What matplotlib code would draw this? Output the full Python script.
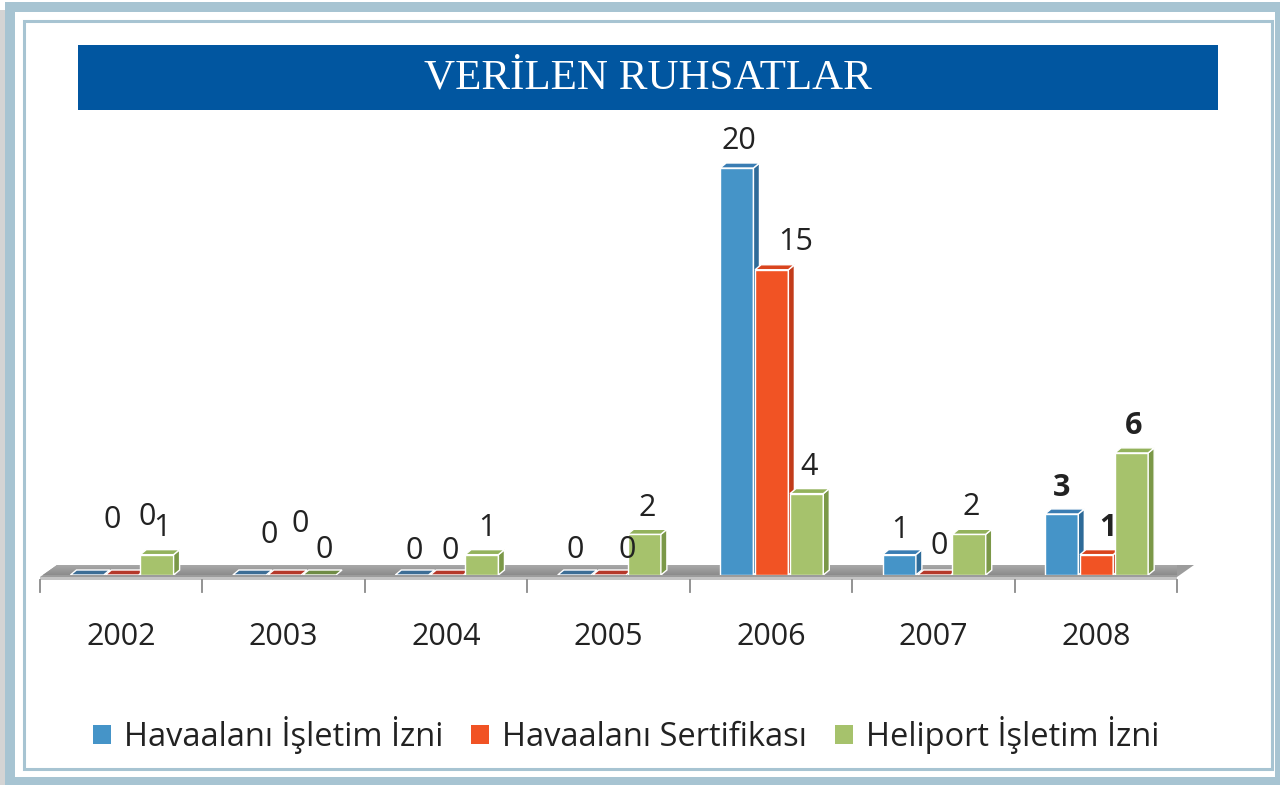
import numpy as np
import matplotlib
matplotlib.use("Agg")
import matplotlib.pyplot as plt
from matplotlib.patches import Rectangle, Polygon, Patch

years = ["2002", "2003", "2004", "2005", "2006", "2007", "2008"]
series_names = ["Havaalanı İşletim İzni", "Havaalanı Sertifikası", "Heliport İşletim İzni"]
isletim = [0, 0, 0, 0, 20, 1, 3]
sertifika = [0, 0, 0, 0, 15, 0, 1]
heliport = [1, 0, 1, 2, 4, 2, 6]
values = [isletim, sertifika, heliport]

# label nudges in pixels (right, down) where labels sit off the usual spot
label_nudge = [
    [(23, -28), (23, -31), (3, 0)],
    [(18, -13), (14, -24), (3, 2)],
    [(0, 3), (1, 3), (3, 0)],
    [(-1, 2), (16, 2), (1, 1)],
    [(0, 0), (22, -1), (0, 0)],
    [(-1, 2), (3, -2), (0, 0)],
    [(-2, 1), (9, 0), (0, 0)],
]

front = ["#4594c8", "#f15324", "#a6c26c"]
side = ["#2e6b99", "#c23b1a", "#7b9848"]
top = ["#3a7db3", "#d9441d", "#93b25c"]
flat = ["#3d6e96", "#b5382a", "#6f8c45"]
txt = "#222222"
frame_c = "#a7c4d2"

W, H = 1280, 785
fig = plt.figure(figsize=(W / 100, H / 100), dpi=100)
fig.patch.set_facecolor("white")

# frame, banner and title in pixel coordinates
bg = fig.add_axes([0, 0, 1, 1])
bg.set_xlim(0, W)
bg.set_ylim(H, 0)
bg.axis("off")
bg.add_patch(Rectangle((0, 10), 5, H, color="#d4d4d4", lw=0))
bg.add_patch(Rectangle((10, 7), 1270, 775, fill=False, ec=frame_c, lw=7.2))
bg.add_patch(Rectangle((23.5, 21), 1248, 747.5, fill=False, ec=frame_c, lw=2.2))
bg.add_patch(Rectangle((78, 45), 1140, 65, color="#0156a0", lw=0))
bg.text(648, 78, "VERİLEN RUHSATLAR", color="white", fontsize=31,
        family="Liberation Serif", ha="center", va="center")

# chart area: baseline at y=575px, 20.35 px per unit
x0_px, base_px, w_px, h_px = 40, 575, 1137, 445
px_y = 20.35
px_x = w_px / 7
ax = fig.add_axes([x0_px / W, (H - base_px) / H, w_px / W, h_px / H])
ax.axis("off")
ax.patch.set_alpha(0)

dx = 6 / px_x
dy = 5 / px_y

# floor
fdx = 17 / px_x
fy0, fy1 = -2 / px_y, 10 / px_y
floor = Polygon([(-0.5, fy0), (6.5, fy0), (6.5 + fdx, fy1), (-0.5 + fdx, fy1)],
                closed=True, fc="#9c9c9c", ec="none", zorder=1, clip_on=False)
ax.add_patch(floor)
grad = np.linspace(0.52, 0.66, 256).reshape(-1, 1)
img = ax.imshow(grad, cmap="gray", vmin=0, vmax=1, aspect="auto",
                extent=(-0.5, 6.5 + fdx, fy0, fy1), origin="lower", zorder=1)
img.set_clip_path(floor)
ax.add_patch(Polygon([(-0.5, fy0), (6.5, fy0), (6.5, -5 / px_y), (-0.5, -5 / px_y)],
                     closed=True, fc="#c4c4c4", ec="none", zorder=1, clip_on=False))
for k in range(8):
    ax.plot([k - 0.5, k - 0.5], [-5 / px_y, -17 / px_y], color="#8a8a8a",
            lw=1.3, clip_on=False, zorder=1)

width = 0.205
offsets = (np.arange(3) - 1) * 0.215 + 0.005

for i in range(len(years)):
    for s in range(3):
        v = values[s][i]
        xc = i + offsets[s]
        xl = xc - width / 2
        xr = xc + width / 2
        if v == 0:
            ax.add_patch(Polygon([(xl, 0), (xr, 0), (xr + dx, dy), (xl + dx, dy)],
                                 closed=True, fc=flat[s], ec="white", lw=1, zorder=2))
        else:
            ax.bar(xc, v, width=width, color=front[s], edgecolor="white",
                   linewidth=1, zorder=2)
            ax.add_patch(Polygon([(xr, 0), (xr + dx, dy), (xr + dx, v + dy), (xr, v)],
                                 closed=True, fc=side[s], ec="white", lw=1, zorder=2))
            ax.add_patch(Polygon([(xl, v), (xr, v), (xr + dx, v + dy), (xl + dx, v + dy)],
                                 closed=True, fc=top[s], ec="white", lw=1, zorder=2))
        ndx, ndy = label_nudge[i][s]
        ax.annotate(str(v), xy=(xc, v), xytext=(2 + ndx, 19 - ndy),
                    textcoords="offset pixels", ha="center", va="baseline",
                    fontsize=22, family="Open Sans", color=txt, zorder=3,
                    fontweight="bold" if years[i] == "2008" else "normal")

for i, yr in enumerate(years):
    ax.text(i, -62 / px_y, yr, ha="center", va="center", fontsize=22,
            family="Open Sans", color=txt)

ax.set_xlim(-0.5, 6.5)
ax.set_ylim(0, h_px / px_y)

handles = [Patch(facecolor=front[s], edgecolor="none") for s in range(3)]
fig.legend(handles, series_names, loc="center", bbox_to_anchor=(626 / W, 1 - 735 / H),
           ncol=3, frameon=False, prop={"family": "Open Sans", "size": 23.5},
           labelcolor=txt, handlelength=0.55, handleheight=0.55,
           handletextpad=0.4, columnspacing=0.85)

plt.savefig("out.png", dpi=100)
